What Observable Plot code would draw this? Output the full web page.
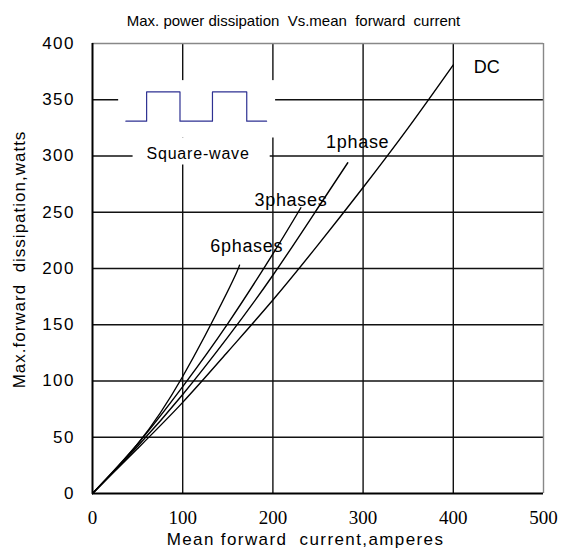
<!DOCTYPE html>
<html><head><meta charset="utf-8">
<script src="https://cdn.jsdelivr.net/npm/d3@7"></script>
<script src="https://cdn.jsdelivr.net/npm/@observablehq/plot@0.6"></script>
<style>body{margin:0;background:#fff} svg{display:block}</style>
</head><body><div id="chart"></div>
<script>
const xTicks = [0, 100, 200, 300, 400, 500];
const yTicks = [0, 50, 100, 150, 200, 250, 300, 350, 400];
const dcX = [0, 50, 100, 150, 200, 250, 300, 350, 400];
const dcY = [0, 40, 81, 126, 172, 221, 272, 325, 381];
const p1X = [0, 50, 100, 150, 200, 250, 283];
const p1Y = [0, 42, 88, 139, 194, 254, 294];
const p3X = [0, 50, 100, 150, 200, 231];
const p3Y = [0, 44, 95, 151, 213, 254];
const p6X = [0, 50, 100, 150, 163];
const p6Y = [0, 44, 104, 180, 203];
const sqX = [37, 60, 60, 97, 97, 133, 133, 171, 171, 193];
const sqY = [331, 331, 357, 357, 331, 331, 357, 357, 331, 331];
const curveLabels = ["DC", "1phase", "3phases", "6phases"];
const labelX = [437, 294, 220, 171];
const labelY = [379, 312, 261, 220];
const insetLabel = "Square-wave";
const insetLabelX = 117, insetLabelY = 302;
const title = "Max. power dissipation  Vs.mean  forward  current";
const xLabel = "Mean forward  current,amperes";
const yLabel = "Max.forward  dissipation,watts";

const series = [["DC", dcX, dcY], ["1phase", p1X, p1Y], ["3phases", p3X, p3Y], ["6phases", p6X, p6Y]];
const rows = series.flatMap(([name, xs, ys]) => xs.map((x, i) => ({name, x, y: ys[i]})));
const sq = sqX.map((x, i) => ({x, y: sqY[i]}));
const labs = curveLabels.map((t, i) => ({t, x: labelX[i], y: labelY[i]}));
const [sx0, sx1] = d3.extent(sqX), [sy0, sy1] = d3.extent(sqY);
const boxes = [
  {x1: sx0 - 8, x2: sx1 + 10, y1: sy0 - 15, y2: sy1 + 10},
  {x1: insetLabelX - 72, x2: insetLabelX + 80, y1: insetLabelY - 10, y2: sy0 - 15}
];
const font = "Liberation Sans, Arial, sans-serif";

const chart = Plot.plot({
  width: 561, height: 551,
  marginLeft: 92, marginRight: 18, marginTop: 43, marginBottom: 58,
  style: {fontFamily: font, background: "#fff"},
  x: {domain: [0, 500]},
  y: {domain: [0, 400]},
  marks: [
    Plot.ruleX(xTicks.filter(d => d > 0 && d < 500), {stroke: "#111", strokeWidth: 1.4}),
    Plot.ruleY(yTicks.filter(d => d > 0 && d < 400), {stroke: "#111", strokeWidth: 1.4}),
    Plot.ruleX([500], {stroke: "#888", strokeWidth: 1.4}),
    Plot.ruleY([400], {stroke: "#888", strokeWidth: 1.4}),
    Plot.rect(boxes, {x1: "x1", x2: "x2", y1: "y1", y2: "y2", fill: "white"}),
    Plot.line(rows, {x: "x", y: "y", z: "name", stroke: "#000", strokeWidth: 1.4, curve: "natural"}),
    Plot.line(sq, {x: "x", y: "y", stroke: "#2e3192", strokeWidth: 1.2}),
    Plot.text(labs, {x: "x", y: "y", text: "t", fontSize: 18, fill: "#000"}),
    Plot.text([insetLabel], {x: insetLabelX, y: insetLabelY, fontSize: 16, fill: "#000"}),
    Plot.ruleX([0], {stroke: "#000", strokeWidth: 2}),
    Plot.ruleY([0], {stroke: "#000", strokeWidth: 2}),
    Plot.axisX({ticks: xTicks, tickSize: 0, tickPadding: 17, fontSize: 19, fontFamily: "Liberation Serif, serif", label: null}),
    Plot.axisY({ticks: yTicks, tickSize: 0, tickPadding: 17.5, fontSize: 17, label: null}),
    Plot.text([title], {frameAnchor: "top", lineAnchor: "middle", textAnchor: "middle", dx: -24.5, dy: -22, fontSize: 15, fill: "#000"}),
    Plot.text([xLabel], {frameAnchor: "bottom", lineAnchor: "middle", textAnchor: "middle", dx: -12.5, dy: 46, fontSize: 17, fill: "#000"}),
    Plot.text([yLabel], {frameAnchor: "left", lineAnchor: "middle", textAnchor: "middle", rotate: -90, dx: -73, dy: -9, fontSize: 17, fill: "#000"})
  ]
});
const sel = d3.select(chart);
const spacing = new Map([[xLabel, 1.4], [yLabel, 1], [insetLabel, 0.8], ["1phase", 0.7], ["3phases", 0.7], ["6phases", 0.7]]);
sel.selectAll("text").each(function () {
  const t = this.textContent;
  if (spacing.has(t)) this.setAttribute("letter-spacing", spacing.get(t));
  if (/^\d+$/.test(t) && this.closest("g[aria-label='y-axis tick label']")) this.setAttribute("letter-spacing", 1.5);
});
document.getElementById("chart").appendChild(chart);
</script></body></html>
